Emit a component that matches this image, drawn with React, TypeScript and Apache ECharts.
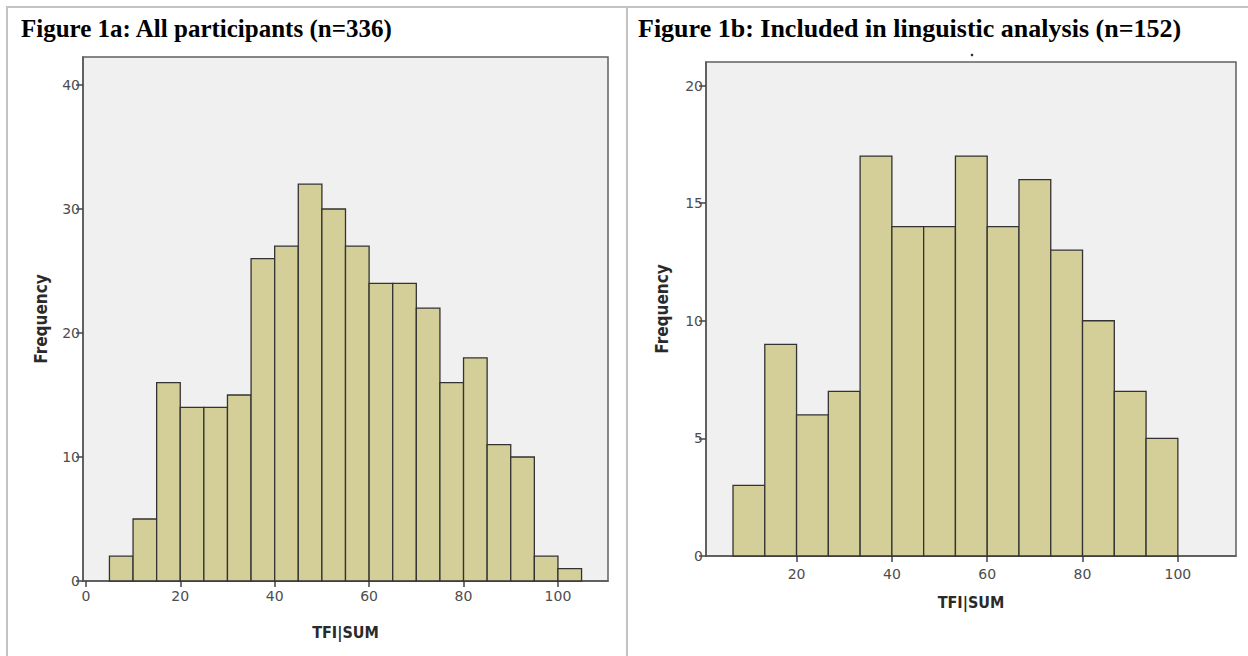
import React, { useEffect, useRef } from "react";
import * as echarts from "echarts";

// Figure 1a: all participants (bin width 5)
const binStartsA = [5, 10, 15, 20, 25, 30, 35, 40, 45, 50, 55, 60, 65, 70, 75, 80, 85, 90, 95, 100];
const binWidthA = 5;
const countsA = [2, 5, 16, 14, 14, 15, 26, 27, 32, 30, 27, 24, 24, 22, 16, 18, 11, 10, 2, 1];
const xTicksA = [0, 20, 40, 60, 80, 100];
const yTicksA = [0, 10, 20, 30, 40];

// Figure 1b: included in linguistic analysis (bin width 20/3)
const binStartsB = [6.667, 13.333, 20, 26.667, 33.333, 40, 46.667, 53.333, 60, 66.667, 73.333, 80, 86.667, 93.333];
const binWidthB = 6.667;
const countsB = [3, 9, 6, 7, 17, 14, 14, 17, 14, 16, 13, 10, 7, 5];
const xTicksB = [20, 40, 60, 80, 100];
const yTicksB = [0, 5, 10, 15, 20];

const titleA = "Figure 1a: All participants (n=336)";
const titleB = "Figure 1b: Included in linguistic analysis (n=152)";

const renderBar = (params: any, api: any) => {
  const x0 = api.value(0);
  const x1 = api.value(1);
  const y = api.value(2);
  const p0 = api.coord([x0, y]);
  const p1 = api.coord([x1, 0]);
  return {
    type: "rect",
    shape: { x: p0[0], y: p0[1], width: p1[0] - p0[0], height: p1[1] - p0[1] },
    style: { fill: "#d4cf99", stroke: "#333333", lineWidth: 1.3 },
  };
};

const labelStyle = { color: "#4d4d4d", fontSize: 14, fontFamily: "'DejaVu Sans'" };
const nameStyle = {
  color: "#2a2a2a",
  fontSize: 16,
  fontWeight: "bold" as const,
  fontFamily: "'DejaVu Sans Condensed', 'DejaVu Sans'",
};

function makeX(gridIndex: number, min: number, max: number, ticks: number[], gap: number, margin: number) {
  return {
    type: "value",
    gridIndex,
    min,
    max,
    name: "TFI|SUM",
    nameLocation: "middle",
    nameGap: gap,
    nameTextStyle: nameStyle,
    axisLine: { show: true, onZero: false, lineStyle: { color: "#555", width: 1.5 } },
    axisTick: { show: true, inside: false, length: 6, customValues: ticks, lineStyle: { color: "#444", width: 1.5 } },
    axisLabel: { ...labelStyle, margin, customValues: ticks, showMinLabel: true, showMaxLabel: true },
    splitLine: { show: false },
  };
}

function makeY(gridIndex: number, max: number, ticks: number[], gap: number) {
  return {
    type: "value",
    gridIndex,
    min: 0,
    max,
    name: "Frequency",
    nameLocation: "middle",
    nameRotate: 90,
    nameGap: gap,
    nameTextStyle: { ...nameStyle, fontSize: 17 },
    axisLine: { show: true, onZero: false, lineStyle: { color: "#555", width: 1.5 } },
    axisTick: { show: true, inside: false, length: 7, customValues: ticks, lineStyle: { color: "#444", width: 1.5 } },
    axisLabel: { ...labelStyle, margin: 3, customValues: ticks },
    splitLine: { show: false },
  };
}

export default function App() {
  const ref = useRef<HTMLDivElement>(null);
  useEffect(() => {
    if (!ref.current) return;
    const chart = echarts.init(ref.current, null, { renderer: "svg" });
    const border = { stroke: "#c3c3c3", lineWidth: 2 };
    chart.setOption({
      animation: false,
      backgroundColor: "#ffffff",
      grid: [
        { left: 83, top: 57, width: 525, height: 524, show: true, backgroundColor: "#f0f0f0", borderColor: "#606060", borderWidth: 1.5 },
        { left: 706, top: 62, width: 530, height: 494, show: true, backgroundColor: "#f0f0f0", borderColor: "#606060", borderWidth: 1.5 },
      ],
      xAxis: [makeX(0, -0.6, 110.6, xTicksA, 43, 8), makeX(1, 1.0, 112.2, xTicksB, 38, 11)],
      yAxis: [makeY(0, 42.26, yTicksA, 34), makeY(1, 21, yTicksB, 36)],
      series: [
        {
          type: "custom",
          xAxisIndex: 0,
          yAxisIndex: 0,
          renderItem: renderBar,
          encode: { x: [0, 1], y: 2 },
          data: binStartsA.map((s, i) => [s, s + binWidthA, countsA[i]]),
        },
        {
          type: "custom",
          xAxisIndex: 1,
          yAxisIndex: 1,
          renderItem: renderBar,
          encode: { x: [0, 1], y: 2 },
          data: binStartsB.map((s, i) => [s, s + binWidthB, countsB[i]]),
        },
      ],
      graphic: [
        { type: "line", shape: { x1: 6, y1: 7, x2: 1248, y2: 7 }, style: border, silent: true },
        { type: "line", shape: { x1: 7, y1: 6, x2: 7, y2: 656 }, style: border, silent: true },
        { type: "line", shape: { x1: 627, y1: 6, x2: 627, y2: 656 }, style: border, silent: true },
        {
          type: "text",
          x: 21,
          y: 28,
          style: {
            text: titleA,
            fill: "#000",
            font: "bold 25px 'Liberation Serif', 'Times New Roman', serif",
            verticalAlign: "middle",
          },
        },
        {
          type: "text",
          x: 638,
          y: 28,
          style: {
            text: titleB,
            fill: "#000",
            font: "bold 26px 'Liberation Serif', 'Times New Roman', serif",
            verticalAlign: "middle",
          },
        },
        { type: "circle", shape: { cx: 972, cy: 55, r: 1.3 }, style: { fill: "#333" }, silent: true },
      ],
    });
    return () => chart.dispose();
  }, []);
  return (
    <div
      ref={ref}
      style={{ position: "fixed", left: 0, top: 0, width: 1248, height: 656 }}
    />
  );
}
